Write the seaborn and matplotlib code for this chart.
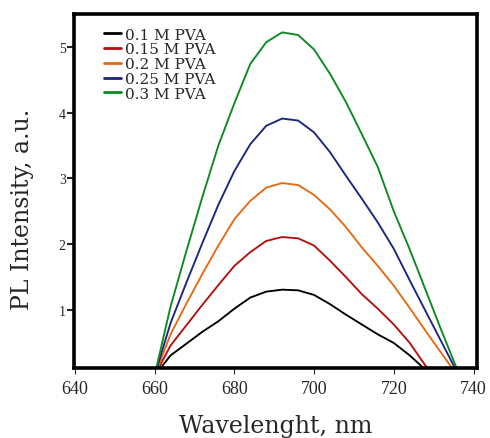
import pandas as pd
import numpy as np
import matplotlib
matplotlib.use("Agg")
import matplotlib.pyplot as plt
import seaborn as sns

# wavelength grid (nm) and PL intensities
wavelength = [640, 660, 664, 668, 672, 676, 680, 684, 688, 692, 696, 700,
              704, 708, 712, 716, 720, 724, 728, 732, 736, 740]
pva_010 = [0, 0, 0.31, 0.49, 0.67, 0.83, 1.02, 1.19, 1.28, 1.31, 1.30, 1.23,
           1.09, 0.93, 0.78, 0.63, 0.50, 0.31, 0.09, 0, 0, 0]
pva_015 = [0, 0, 0.46, 0.77, 1.08, 1.38, 1.67, 1.88, 2.05, 2.11, 2.09, 1.98,
           1.75, 1.50, 1.24, 1.02, 0.78, 0.50, 0.15, 0, 0, 0]
pva_020 = [0, 0, 0.63, 1.10, 1.55, 1.98, 2.38, 2.66, 2.86, 2.93, 2.90, 2.75,
           2.53, 2.26, 1.95, 1.67, 1.37, 1.03, 0.68, 0.34, 0, 0]
pva_025 = [0, 0, 0.80, 1.42, 2.02, 2.60, 3.11, 3.52, 3.80, 3.91, 3.88, 3.70,
           3.40, 3.04, 2.69, 2.33, 1.93, 1.45, 0.98, 0.51, 0.04, 0]
pva_030 = [0, 0, 1.05, 1.90, 2.72, 3.50, 4.14, 4.74, 5.07, 5.22, 5.18, 4.96,
           4.59, 4.16, 3.67, 3.17, 2.50, 1.92, 1.30, 0.68, 0.08, 0]

labels = ["0.1 M PVA", "0.15 M PVA", "0.2 M PVA", "0.25 M PVA", "0.3 M PVA"]
series = [pva_010, pva_015, pva_020, pva_025, pva_030]
colors = ["#000000", "#b01010", "#e56a12", "#1c2380", "#0a8a1e"]

frames = []
for lab, vals in zip(labels, series):
    frames.append(pd.DataFrame({"Wavelength": wavelength, "Intensity": vals, "Sample": lab}))
data = pd.concat(frames, ignore_index=True)

sns.set_style("white")
plt.rcParams["font.family"] = ["DejaVu Serif"]

fig = plt.figure(figsize=(4.9, 4.39), dpi=100)
ax = fig.add_axes([0.151, 0.1595, 0.822, 0.8065])

sns.lineplot(data=data, x="Wavelength", y="Intensity", hue="Sample",
             palette=colors, linewidth=1.35, ax=ax)

ax.set_xlim(639.8, 740.8)
ax.set_ylim(0.12, 5.5)
ax.set_xticks([640, 660, 680, 700, 720, 740])
ax.set_yticks([1, 2, 3, 4, 5])

for s in ax.spines.values():
    s.set_linewidth(2.6)
    s.set_color("black")

ax.tick_params(axis="x", bottom=True, direction="out", length=4, width=0.8,
               labelsize=13, labelfontfamily="Liberation Serif", pad=5)
ax.tick_params(axis="y", left=True, direction="out", length=5, width=1.5,
               labelsize=10, labelfontfamily="Liberation Serif", pad=1)

ax.set_xlabel("Wavelenght, nm", fontsize=17, labelpad=12)
ax.set_ylabel("PL Intensity, a.u.", fontsize=17)
ax.yaxis.set_label_coords(-0.10, 0.45)

leg = ax.legend(loc="upper left", bbox_to_anchor=(0.04, 1.0), frameon=False,
                fontsize=11, handlelength=1.1, handletextpad=0.3,
                labelspacing=0.05, borderaxespad=0.5)
for line in leg.get_lines():
    line.set_linewidth(2.0)

fig.savefig("out.png", dpi=100)
